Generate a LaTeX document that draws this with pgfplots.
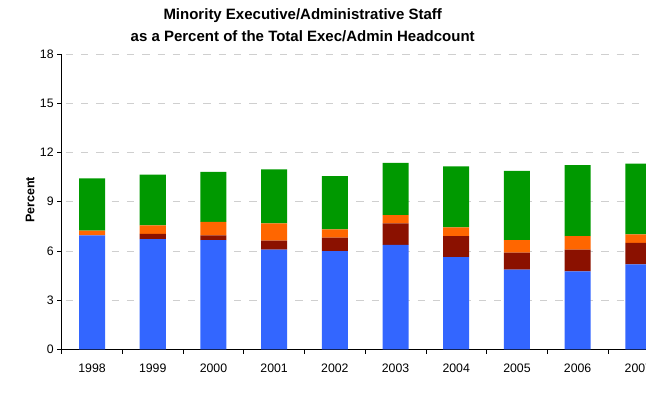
\documentclass[border=0pt]{standalone}
\usepackage{fontspec}
\setmainfont{Liberation Sans}
\usepackage{pgfplots}
\pgfplotsset{compat=1.18}
\definecolor{cblue}{HTML}{3366FF}
\definecolor{cdred}{HTML}{8B1100}
\definecolor{corange}{HTML}{FF6600}
\definecolor{cgreen}{HTML}{009900}
\definecolor{cgrid}{HTML}{CFCFCF}
\begin{document}
\begin{tikzpicture}[x=1pt,y=1pt]
\begin{axis}[
  at={(61.7pt,43.7pt)}, anchor=south west,
  scale only axis, width=607pt, height=295.3pt,
  xmin=-0.5, xmax=9.5, ymin=0, ymax=18,
  ybar stacked, bar width=26pt,
  axis x line*=bottom, axis y line*=left,
  axis line style={black, line width=0.8pt, -},
  ytick={0,3,...,18},
  xtick={-0.5,0.5,...,9.5},
  xticklabels={1998,1999,2000,2001,2002,2003,2004,2005,2006,2007},
  x tick label as interval,
  tick align=outside,
  major tick length=4.5pt,
  tick style={black, line width=0.6pt},
  ymajorgrids,
  grid style={cgrid, line width=0.7pt, dash pattern=on 7.3pt off 8pt, dash phase=-4pt},
  /pgf/number format/assume math mode=true,
  ticklabel style={font=\fontsize{12.3}{14}\selectfont},
  xticklabel style={yshift=-6.5pt},
  ylabel={Percent},
  ylabel style={at={(axis description cs:-0.052,0.506)}, anchor=center, font=\bfseries\fontsize{12.5}{14}\selectfont},
]
\addplot[fill=cblue, draw=none] coordinates {(0,6.95) (1,6.72) (2,6.66) (3,6.07) (4,5.99) (5,6.37) (6,5.62) (7,4.85) (8,4.75) (9,5.18)};
\addplot[fill=cdred, draw=none] coordinates {(0,0.00) (1,0.31) (2,0.29) (3,0.55) (4,0.81) (5,1.31) (6,1.28) (7,1.04) (8,1.32) (9,1.30)};
\addplot[fill=corange, draw=none] coordinates {(0,0.28) (1,0.53) (2,0.81) (3,1.06) (4,0.51) (5,0.50) (6,0.53) (7,0.77) (8,0.83) (9,0.53)};
\addplot[fill=cgreen, draw=none] coordinates {(0,3.19) (1,3.08) (2,3.06) (3,3.29) (4,3.25) (5,3.19) (6,3.72) (7,4.22) (8,4.33) (9,4.30)};
\end{axis}
\node[align=center, font=\bfseries\fontsize{15}{22}\selectfont] at (302.7pt,368pt) {Minority Executive/Administrative Staff\\as a Percent of the Total Exec/Admin Headcount};
\pgfresetboundingbox
\path[use as bounding box] (0pt,0pt) rectangle (646pt,393pt);
\end{tikzpicture}
\end{document}
